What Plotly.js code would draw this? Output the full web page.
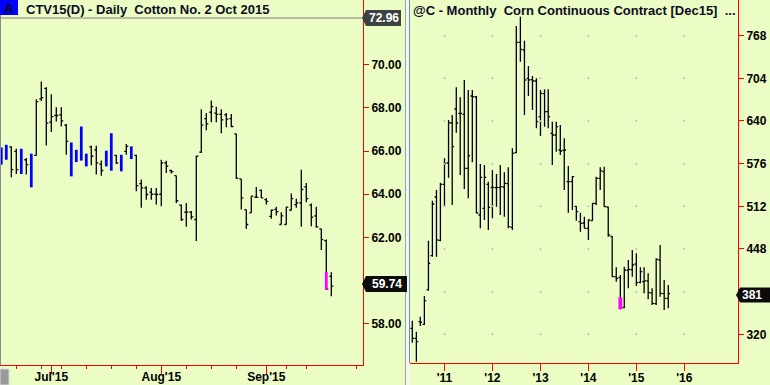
<!DOCTYPE html>
<html><head><meta charset="utf-8">
<script src="https://cdn.plot.ly/plotly-3.0.1.min.js"></script>
<style>html,body{margin:0;padding:0;background:#ebfcc4;overflow:hidden}#chart{width:770px;height:385px}</style>
</head><body><div id="chart"></div>
<script>
// ---------- Daily cotton (CTV15) ----------
const tradingDays = ['2015-06-17','2015-06-18','2015-06-19','2015-06-22','2015-06-23','2015-06-24','2015-06-25','2015-06-26','2015-06-29','2015-06-30',
 '2015-07-01','2015-07-02','2015-07-06','2015-07-07','2015-07-08','2015-07-09','2015-07-10','2015-07-13','2015-07-14','2015-07-15',
 '2015-07-16','2015-07-17','2015-07-20','2015-07-21','2015-07-22','2015-07-23','2015-07-24','2015-07-27','2015-07-28','2015-07-29',
 '2015-07-30','2015-07-31','2015-08-03','2015-08-04','2015-08-05','2015-08-06','2015-08-07','2015-08-10','2015-08-11','2015-08-12',
 '2015-08-13','2015-08-14','2015-08-17','2015-08-18','2015-08-19','2015-08-20','2015-08-21','2015-08-24','2015-08-25','2015-08-26',
 '2015-08-27','2015-08-28','2015-08-31','2015-09-01','2015-09-02','2015-09-03','2015-09-04','2015-09-08','2015-09-09','2015-09-10',
 '2015-09-11','2015-09-14','2015-09-15','2015-09-16','2015-09-17','2015-09-18','2015-09-21','2015-09-22','2015-09-23','2015-09-24',
 '2015-09-25','2015-09-28','2015-09-29','2015-09-30'];
const dOpen  = [null,null,66.20,65.99,null,65.60,null,65.80,68.42,68.91, 67.34,67.65,67.68,67.20,null,null,null,null,66.20,66.06,
 65.40,null,null,65.80,null,65.99,null,65.80,64.49,64.30, 64.10,64.00,64.00,65.45,65.10,64.86,63.50,63.17,63.17,62.83,
 65.95,67.50,67.80,67.76,67.70,67.68,67.50,66.80,64.71,63.29, 63.14,63.87,64.18,63.75,62.98,63.30,62.60,62.60,63.26,63.52,
 63.60,64.34,63.50,63.00,62.40,61.85,60.20];
const dHigh  = [66.17,66.29,66.22,66.11,66.11,65.68,65.88,68.40,69.22,68.96, 68.63,68.03,68.03,67.25,66.40,66.06,67.14,65.88,66.25,66.25,
 65.56,66.02,66.83,65.83,65.83,66.33,66.22,65.83,64.68,64.37, 64.29,64.29,65.60,65.55,65.14,64.86,63.52,63.60,63.22,65.79,
 67.94,67.76,68.34,68.06,67.94,67.76,67.72,66.80,64.71,63.29, 63.91,64.34,64.22,63.83,63.29,63.42,63.17,63.42,64.03,63.79,
 65.14,64.52,63.57,63.42,62.40,61.91,60.39];
const dLow   = [65.37,65.60,64.79,64.94,64.94,64.91,64.32,65.80,68.32,66.26, 66.88,67.37,67.14,65.83,64.83,65.49,65.56,65.29,65.34,64.91,
 64.86,65.29,65.09,65.40,65.06,65.83,65.63,64.14,63.37,63.75, 63.75,63.53,63.45,64.99,64.96,63.60,62.76,62.49,62.83,61.83,
 65.91,66.96,67.34,67.34,66.83,67.11,67.11,64.71,63.29,62.40, 63.14,63.83,63.83,63.52,62.86,63.02,62.60,62.60,63.26,63.37,
 62.49,63.63,62.52,62.45,61.42,59.60,59.27];
const dClose = [null,null,65.14,65.14,null,65.37,null,68.29,68.48,67.30, 67.60,67.65,67.40,66.45,null,null,null,null,65.76,65.45,
 65.10,null,null,65.45,null,66.22,null,64.40,64.30,63.99, 64.00,63.99,65.45,65.30,65.05,63.70,62.83,63.17,62.95,65.76,
 67.20,67.26,68.06,67.70,67.45,67.48,67.14,64.75,63.83,62.60, 63.91,63.87,63.83,63.67,63.26,63.20,63.00,63.40,63.80,63.60,
 64.22,63.80,62.94,62.49,61.90,59.60,59.74];
const dPainted = [1,1,0,0,1,0,1,0,0,0, 0,0,0,0,1,1,1,1,0,0, 0,1,1,0,1,0,1,0,0,0, 0,0,0,0,0,0,0,0,0,0,
 0,0,0,0,0,0,0,0,0,0, 0,0,0,0,0,0,0,0,0,0, 0,0,0,0,0,0,0];
const dayMarkDate = '2015-09-18', dayMarkLow = 59.57, dayMarkHigh = 60.40;
const dayMonthTicks  = ['2015-07-01','2015-08-03','2015-09-01'];
const dayMonthLabels = ["Jul'15","Aug'15","Sep'15"];
const dayWeekTicks   = ['2015-06-22','2015-06-29','2015-07-06','2015-07-13','2015-07-20','2015-07-27','2015-08-10','2015-08-17','2015-08-24','2015-09-08','2015-09-14','2015-09-28'];
const dayYTicks = [58,60,62,64,66,68,70];
const dayLast = 59.74, dayTopLabel = 72.96;

// ---------- Monthly corn (@C) ----------
const months = ['2010-05','2010-06','2010-07','2010-08','2010-09','2010-10','2010-11','2010-12',
 '2011-01','2011-02','2011-03','2011-04','2011-05','2011-06','2011-07','2011-08','2011-09','2011-10','2011-11','2011-12',
 '2012-01','2012-02','2012-03','2012-04','2012-05','2012-06','2012-07','2012-08','2012-09','2012-10','2012-11','2012-12',
 '2013-01','2013-02','2013-03','2013-04','2013-05','2013-06','2013-07','2013-08','2013-09','2013-10','2013-11','2013-12',
 '2014-01','2014-02','2014-03','2014-04','2014-05','2014-06','2014-07','2014-08','2014-09','2014-10','2014-11','2014-12',
 '2015-01','2015-02','2015-03','2015-04','2015-05','2015-06','2015-07','2015-08','2015-09'];
const mOpen  = [329,314,339,335,387,438,526,461, 545,577,637,658,651.5,650,569,677.5,676,499,509,545,
 540.5,540,540,541,546,480.5,592.5,758,746.5,704,702,700, 646.5,681,654,621.5,619,596.5,596,549,549,512,489,487,
 479,490.5,516,554,564,511,467,406.5,405,360,416,417, 425.5,398,399,400,382,366,431.5,381,374];
const mHigh  = [340.5,324,346.5,377.5,460.5,520.5,536.5,547.5, 584,641.5,649,690.5,675.5,701.5,686.5,686.5,677.5,575.5,574,549,
 566.5,560.5,574,563,570.5,599,782.5,796.5,760.5,722.5,707.5,704, 686.5,687.5,687.5,639,639,634,614,572.5,557.5,512.5,502.5,496.5,
 492.5,516.5,556.5,570.5,571.5,511.5,467.5,420.5,409,421.5,431.5,446.5, 441.5,420.5,420.5,411.5,389,434,454,401.5,394];
const mLow   = [307.5,279,332.5,334,385.5,436.5,436.5,459.5, 511.5,555,514,622.5,559,538,524,578,501.5,479,491.5,476.5,
 494,511.5,499,496.5,479,476.5,591.5,729,649,677.5,656.5,629, 617.5,631.5,629,574,594,589,536.5,502.5,506.5,490.5,474,479,
 461.5,490.5,514,536.5,511.5,466.5,406.5,399,357.5,359,389,406.5, 392.5,396.5,381.5,372.5,364,364,376.5,356.5,359];
const mClose = [314,309,338,370.5,426.5,515.5,461.5,545, 576.5,637.5,601.5,637,651.5,569,588,676.5,502,555.5,555.5,510.5,
 540.5,540.5,541.5,546.5,481.5,591.5,758,747.5,701.5,701.5,700,639, 681.5,654,646.5,619,631.5,595,596.5,549,556.5,504,486.5,479,
 491.5,516.5,554,565.5,511.5,469,406.5,404,361.5,416.5,417.5,424, 397.5,414,400,382.5,366.5,432.5,381.5,374,381];
const monthMarkDate = '2014-09', monthMarkLow = 357.5, monthMarkHigh = 375.5;
const yearTicks  = ['2011-01-01','2012-01-01','2013-01-01','2014-01-01','2015-01-01','2016-01-01'];
const yearLabels = ["'11","'12","'13","'14","'15","'16"];
const monthYTicks = [320,448,512,576,640,704,768];
const monthGridLevels = [320,384,448,512,576,640,704,768];
const monthLast = 381;

// ---------- helpers ----------
const W = 770, H = 385;
const px = v => v / W, py = v => 1 - v / H;
const BG = '#ebfcc4', RED = '#ff0000', INK = '#0c0c24';
const FONT = "Arial, 'Liberation Sans', sans-serif";
const idx = d => tradingDays.indexOf(d);

const black = [], painted = [];
dHigh.forEach((h, i) => (dPainted[i] ? painted : black).push(i));

const traces = [
  { type:'ohlc', xaxis:'x', yaxis:'y',
    x: black, open: black.map(i=>dOpen[i]), high: black.map(i=>dHigh[i]), low: black.map(i=>dLow[i]), close: black.map(i=>dClose[i]),
    increasing:{line:{color:'#000',width:1.3}}, decreasing:{line:{color:'#000',width:1.3}}, tickwidth:0.4, hoverinfo:'skip' },
  { type:'bar', xaxis:'x', yaxis:'y', x: painted, base: painted.map(i=>dLow[i]), y: painted.map(i=>dHigh[i]-dLow[i]),
    width:0.55, marker:{color:'#0000ff', line:{width:0}}, hoverinfo:'skip' },
  { type:'scatter', mode:'markers', xaxis:'x2', yaxis:'y2',
    x: yearTicks.flatMap(t => monthGridLevels.map(() => t)), y: yearTicks.flatMap(() => monthGridLevels),
    marker:{size:2, color:'#bcbcbc'}, hoverinfo:'skip' },
  { type:'ohlc', xaxis:'x2', yaxis:'y2', x: months, open:mOpen, high:mHigh, low:mLow, close:mClose,
    increasing:{line:{color:'#000',width:1.3}}, decreasing:{line:{color:'#000',width:1.3}}, tickwidth:0.5, hoverinfo:'skip' },
  // magenta marker bars (drawn as thick segments above the OHLC layer)
  { type:'scatter', mode:'lines', xaxis:'x', yaxis:'y', x:[idx(dayMarkDate), idx(dayMarkDate)], y:[dayMarkLow, dayMarkHigh],
    line:{color:'#ff00ff', width:2.8}, hoverinfo:'skip' },
  { type:'scatter', mode:'lines', xaxis:'x2', yaxis:'y2', x:[monthMarkDate, monthMarkDate], y:[monthMarkLow, monthMarkHigh],
    line:{color:'#ff00ff', width:3.8}, hoverinfo:'skip' }
];

const tickFont = {family:FONT, size:12, color:'#000', weight:700};
const axisCommon = {showgrid:false, zeroline:false, showline:true, linecolor:RED, linewidth:1,
  ticks:'outside', tickcolor:RED, tickwidth:1, tickfont:tickFont, fixedrange:true};

const layout = {
  width:W, height:H, margin:{l:0,r:0,t:0,b:0,pad:0},
  paper_bgcolor:BG, plot_bgcolor:BG, showlegend:false, barmode:'overlay', hovermode:false,
  xaxis: Object.assign({}, axisCommon, {domain:[0, px(363)], anchor:'y', type:'linear', range:[-0.26, 72.34],
    tickmode:'array', tickvals: dayMonthTicks.map(idx), ticktext: dayMonthLabels, ticklen:8, ticklabelstandoff:-7,
    minor:{tickmode:'array', tickvals: dayWeekTicks.map(idx), ticks:'outside', ticklen:3, tickcolor:RED, showgrid:false},
    rangeslider:{visible:false}}),
  yaxis: Object.assign({}, axisCommon, {domain:[20/H, 1], anchor:'x', side:'right', range:[56.09, 73.0],
    tickmode:'array', tickvals: dayYTicks, tickformat:'.2f', ticklen:5}),
  xaxis2: Object.assign({}, axisCommon, {domain:[px(410), px(738)], anchor:'y2', type:'date',
    range:['2010-04-13 12:00','2017-02-13'], tickmode:'array', tickvals: yearTicks, ticktext: yearLabels, ticklen:7,
    ticklabelstandoff:-4, rangeslider:{visible:false}}),
  yaxis2: Object.assign({}, axisCommon, {domain:[21.7/H, 1], anchor:'x2', side:'right', range:[276.5, 821.5],
    tickmode:'array', tickvals: monthYTicks, tickformat:'d', ticklen:5}),
  shapes: [
    {type:'line', xref:'paper', yref:'paper', x0:px(0.5), x1:px(0.5), y0:py(0), y1:py(365), line:{color:'#8c8c8c', width:1}},
    {type:'line', xref:'paper', yref:'paper', x0:px(0), x1:px(363), y0:py(18), y1:py(18), line:{color:'#808080', width:1}},
    {type:'rect', xref:'paper', yref:'paper', x0:px(0), x1:px(18), y0:py(0), y1:py(15), fillcolor:'#0000ff', line:{width:0}},
    {type:'line', xref:'paper', yref:'paper', x0:px(405.5), x1:px(405.5), y0:0, y1:1, line:{color:'#a0a0a0', width:1}},
    {type:'rect', xref:'paper', yref:'paper', x0:px(406), x1:px(409), y0:0, y1:1, fillcolor:'#f6f6f6', line:{width:0}},
    {type:'line', xref:'paper', yref:'paper', x0:px(409.5), x1:px(409.5), y0:py(0), y1:py(363), line:{color:'#5b8fd0', width:1}},
    {type:'rect', xref:'paper', yref:'paper', x0:px(0), x1:px(9), y0:py(369), y1:py(385), fillcolor:'#9a9a9a', line:{color:'#d8d8d8', width:1}},
    {type:'path', xref:'paper', yref:'paper', fillcolor:'#3c4242', line:{width:0}, layer:'above',
      path:`M ${px(362)},${py(18)} L ${px(366)},${py(10)} L ${px(401)},${py(10)} L ${px(401)},${py(26)} L ${px(366)},${py(26)} Z`},
    {type:'path', xref:'paper', yref:'paper', fillcolor:'#0c0c0c', line:{width:0}, layer:'above',
      path:`M ${px(362)},${py(284)} L ${px(366)},${py(276)} L ${px(407)},${py(276)} L ${px(407)},${py(292)} L ${px(366)},${py(292)} Z`},
    {type:'path', xref:'paper', yref:'paper', fillcolor:'#0c0c0c', line:{width:0}, layer:'above',
      path:`M ${px(736)},${py(295)} L ${px(740)},${py(287.5)} L ${px(770)},${py(287.5)} L ${px(770)},${py(302.5)} L ${px(740)},${py(302.5)} Z`}
  ],
  annotations: [
    {xref:'paper', yref:'paper', x:px(9), y:py(8), xanchor:'center', yanchor:'middle', showarrow:false,
      text:'A', font:{family:FONT, size:13, color:'#000', weight:700}},
    {xref:'paper', yref:'paper', x:px(24), y:py(9), xanchor:'left', yanchor:'middle', showarrow:false,
      text:'CTV15(D) - Daily \u00a0Cotton No. 2 Oct 2015', font:{family:FONT, size:13, color:INK, weight:700}},
    {xref:'paper', yref:'paper', x:px(410.5), y:py(10), xanchor:'left', yanchor:'middle', showarrow:false,
      text:'@C - Monthly \u00a0Corn Continuous Contract [Dec15] \u00a0...', font:{family:FONT, size:13, color:INK, weight:700}},
    {xref:'paper', yref:'paper', x:px(383.5), y:py(18), xanchor:'center', yanchor:'middle', showarrow:false,
      text: dayTopLabel.toFixed(2), font:{family:FONT, size:12, color:'#fff', weight:700}},
    {xref:'paper', yref:'paper', x:px(386.5), y:py(284), xanchor:'center', yanchor:'middle', showarrow:false,
      text: dayLast.toFixed(2), font:{family:FONT, size:12, color:'#fff', weight:700}},
    {xref:'paper', yref:'paper', x:px(752), y:py(295), xanchor:'center', yanchor:'middle', showarrow:false,
      text: String(monthLast), font:{family:FONT, size:12, color:'#fff', weight:700}}
  ]
};

Plotly.newPlot('chart', traces, layout, {staticPlot:true, displayModeBar:false});
</script></body></html>
